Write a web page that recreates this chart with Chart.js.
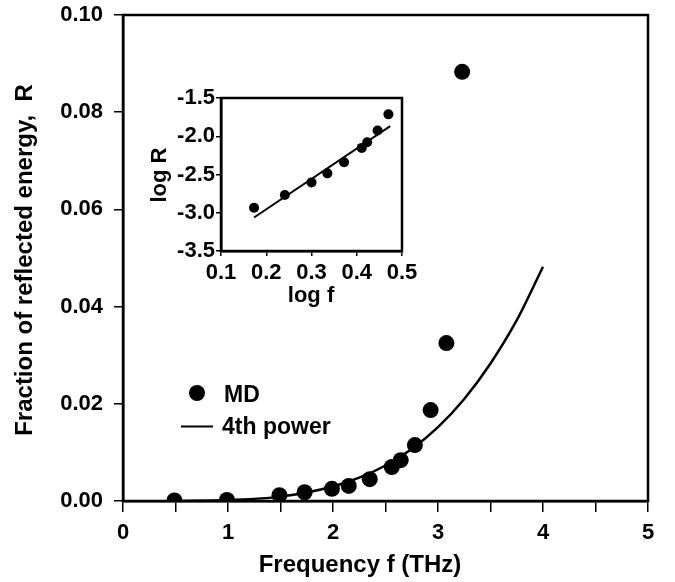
<!DOCTYPE html>
<html>
<head>
<meta charset="utf-8">
<script src="https://cdn.jsdelivr.net/npm/chart.js@4.4.1/dist/chart.umd.min.js"></script>
<style>
html,body{margin:0;padding:0;background:#fff;}
#wrap{position:relative;width:675px;height:582px;overflow:hidden;}
#main{position:absolute;left:0;top:0;}
#inset{position:absolute;left:130px;top:75px;}
</style>
</head>
<body>
<div id="wrap">
<canvas id="main" width="675" height="582"></canvas>
<canvas id="inset" width="290" height="240"></canvas>
</div>
<script>
// ---- Main panel data ----
const mdFreq = [0.49, 0.99, 1.49, 1.73, 1.99, 2.15, 2.35, 2.56, 2.645, 2.78, 2.93, 3.08, 3.23];
const mdR    = [0.0001, 0.0002, 0.0012, 0.0018, 0.0025, 0.0031, 0.0045, 0.0070, 0.0084, 0.0115, 0.0187, 0.0325, 0.0883];
const powFreq = [0.5, 1.0, 1.5, 2.0, 2.25, 2.5, 2.75, 3.0, 3.25, 3.5, 3.75, 4.0];
const powR    = [0.00001, 0.0002, 0.0009, 0.0030, 0.0048, 0.0073, 0.0107, 0.0152, 0.0210, 0.0283, 0.0372, 0.0482];
const seriesLabels = ['MD', '4th power'];
const xTitle = 'Frequency f (THz)';
const yTitle = 'Fraction of reflected energy,  R';

// ---- Inset data ----
const insetLogF = [0.173, 0.241, 0.300, 0.335, 0.372, 0.411, 0.423, 0.446, 0.470];
const insetLogR = [-2.935, -2.769, -2.603, -2.485, -2.340, -2.152, -2.078, -1.925, -1.714];
const insetFitLogF = [0.173, 0.474];
const insetFitLogR = [-3.062, -1.868];
const insetXTitle = 'log f';
const insetYTitle = 'log R';

const FONT = "'Liberation Sans', Arial, Helvetica, sans-serif";
Chart.defaults.font.family = FONT;
Chart.defaults.font.weight = 'bold';
Chart.defaults.color = '#000';

const pts = (xs, ys) => xs.map((x, i) => ({x: x, y: ys[i]}));
const noPad = s => { s.paddingTop = 0; s.paddingBottom = 0; s.paddingLeft = 0; s.paddingRight = 0; };

const framePlugin = {
  id: 'frame',
  afterDraw(chart, args, opts) {
    const {ctx, chartArea: a} = chart;
    ctx.save();
    ctx.strokeStyle = '#000';
    ctx.lineWidth = opts.width || 2.5;
    ctx.strokeRect(a.left, a.top, a.right - a.left, a.bottom - a.top);
    ctx.restore();
  }
};

const titlesPlugin = {
  id: 'titles',
  afterDraw(chart, args, o) {
    const {ctx} = chart;
    ctx.save();
    ctx.fillStyle = '#000';
    ctx.font = 'bold ' + o.size + 'px ' + FONT;
    ctx.textAlign = 'center';
    ctx.textBaseline = 'alphabetic';
    ctx.fillText(o.xText, o.xX, o.xY);
    ctx.translate(o.yX, o.yY);
    ctx.rotate(-Math.PI / 2);
    ctx.textBaseline = 'middle';
    ctx.fillText(o.yText, 0, 0);
    ctx.restore();
  }
};

const legendPlugin = {
  id: 'customLegend',
  afterDraw(chart) {
    const {ctx, chartArea: a} = chart;
    const ds = chart.data.datasets;
    ctx.save();
    ctx.fillStyle = '#000';
    ctx.strokeStyle = '#000';
    ctx.font = 'bold 23px ' + FONT;
    ctx.textAlign = 'left';
    ctx.textBaseline = 'alphabetic';
    // MD
    ctx.beginPath();
    ctx.arc(a.left + 74, a.bottom - 108, 8, 0, Math.PI * 2);
    ctx.fill();
    ctx.fillText(ds[0].label, a.left + 101, a.bottom - 99.5);
    // 4th power
    ctx.lineWidth = 2;
    ctx.beginPath();
    ctx.moveTo(a.left + 58, a.bottom - 74.5);
    ctx.lineTo(a.left + 90, a.bottom - 74.5);
    ctx.stroke();
    ctx.fillText(ds[1].label, a.left + 99, a.bottom - 67);
    ctx.restore();
  }
};

new Chart(document.getElementById('main'), {
  type: 'scatter',
  data: {
    datasets: [
      {
        label: seriesLabels[0],
        data: pts(mdFreq, mdR),
        pointRadius: 8,
        pointBackgroundColor: '#000',
        pointBorderColor: '#000',
        pointBorderWidth: 0,
        showLine: false,
        order: 1
      },
      {
        label: seriesLabels[1],
        data: pts(powFreq, powR),
        showLine: true,
        borderColor: '#000',
        borderWidth: 2.5,
        pointRadius: 0,
        cubicInterpolationMode: 'monotone',
        fill: false,
        order: 2
      }
    ]
  },
  options: {
    responsive: false,
    animation: false,
    layout: {padding: {top: 15, right: 27, left: 0, bottom: 0}},
    plugins: {
      legend: {display: false},
      tooltip: {enabled: false},
      frame: {width: 2.5},
      titles: {size: 24, xText: xTitle, xX: 360, xY: 572, yText: yTitle, yX: 25, yY: 260}
    },
    scales: {
      x: {
        type: 'linear',
        min: 0, max: 5,
        ticks: {
          stepSize: 0.5,
          autoSkip: false,
          maxRotation: 0,
          padding: 8,
          font: {size: 22, weight: 'bold'},
          color: '#000',
          callback: v => Number.isInteger(v) ? String(v) : ''
        },
        grid: {drawOnChartArea: false, drawTicks: true, tickLength: 11, color: '#000', lineWidth: 1.5},
        border: {display: true, color: '#000', width: 2.5},
        afterFit: s => { s.height = 81; noPad(s); }
      },
      y: {
        type: 'linear',
        min: 0, max: 0.1,
        ticks: {
          stepSize: 0.02,
          padding: 11,
          font: {size: 22, weight: 'bold'},
          color: '#000',
          callback: v => v.toFixed(2)
        },
        grid: {drawOnChartArea: false, drawTicks: true, tickLength: 9, color: '#000', lineWidth: 1.5},
        border: {display: true, color: '#000', width: 2.5},
        afterFit: s => { s.width = 123; noPad(s); }
      }
    }
  },
  plugins: [framePlugin, titlesPlugin, legendPlugin]
});

new Chart(document.getElementById('inset'), {
  type: 'scatter',
  data: {
    datasets: [
      {
        label: 'MD',
        data: pts(insetLogF, insetLogR),
        pointRadius: 5,
        pointBackgroundColor: '#000',
        pointBorderColor: '#000',
        pointBorderWidth: 0,
        showLine: false
      },
      {
        label: 'fit',
        data: pts(insetFitLogF, insetFitLogR),
        showLine: true,
        borderColor: '#000',
        borderWidth: 2,
        pointRadius: 0,
        fill: false
      }
    ]
  },
  options: {
    responsive: false,
    animation: false,
    layout: {padding: {top: 23, right: 18, left: 0, bottom: 0}},
    plugins: {
      legend: {display: false},
      tooltip: {enabled: false},
      frame: {width: 2.5},
      titles: {size: 22, xText: insetXTitle, xX: 181, xY: 227, yText: insetYTitle, yX: 30, yY: 100}
    },
    scales: {
      x: {
        type: 'linear',
        min: 0.1, max: 0.5,
        ticks: {
          stepSize: 0.1,
          autoSkip: false,
          maxRotation: 0,
          padding: 4,
          font: {size: 22, weight: 'bold'},
          color: '#000',
          callback: v => v.toFixed(1)
        },
        grid: {drawOnChartArea: false, drawTicks: true, tickLength: 5, color: '#000', lineWidth: 1.5},
        border: {display: true, color: '#000', width: 2.5},
        afterFit: s => { s.height = 64; noPad(s); }
      },
      y: {
        type: 'linear',
        min: -3.5, max: -1.5,
        ticks: {
          stepSize: 0.5,
          padding: 1,
          font: {size: 22, weight: 'bold'},
          color: '#000',
          callback: v => v.toFixed(1)
        },
        grid: {drawOnChartArea: false, drawTicks: true, tickLength: 5, color: '#000', lineWidth: 1.5},
        border: {display: true, color: '#000', width: 2.5},
        afterFit: s => { s.width = 91; noPad(s); }
      }
    }
  },
  plugins: [framePlugin, titlesPlugin]
});
</script>
</body>
</html>
